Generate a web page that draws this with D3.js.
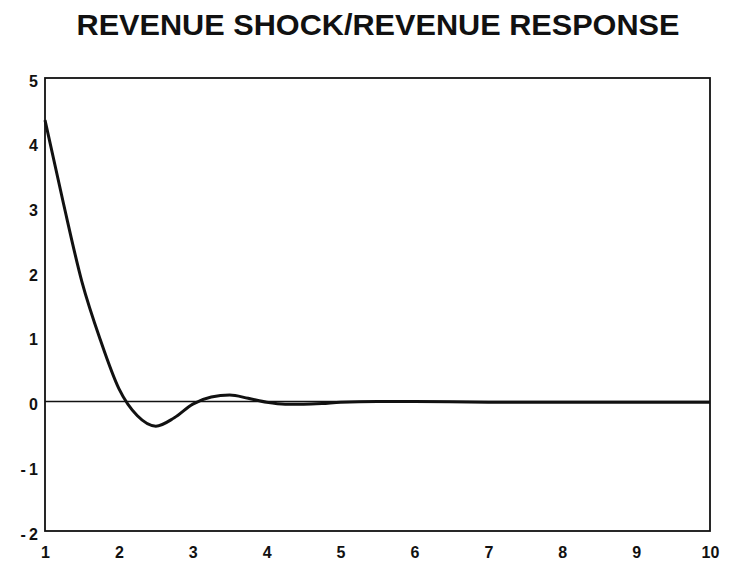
<!DOCTYPE html>
<html>
<head>
<meta charset="utf-8">
<script src="https://cdn.jsdelivr.net/npm/d3@7"></script>
<style>
  html, body { margin: 0; padding: 0; background: #fff; }
  svg { display: block; }
  text { font-family: "Liberation Sans", Arial, sans-serif; fill: #111; }
</style>
</head>
<body>
<div id="chart"></div>
<script>
// response horizon (x) and revenue response (y)
var periods = [1, 1.25, 1.5, 1.75, 2, 2.25, 2.5, 2.75, 3, 3.25, 3.5, 3.75, 4, 4.25, 4.5, 4.75, 5, 5.5, 6, 7, 8, 9, 10];
var response = [4.35, 3.06, 1.85, 0.95, 0.2, -0.22, -0.38, -0.25, -0.04, 0.07, 0.1, 0.05, -0.01, -0.04, -0.04, -0.03, -0.01, 0, 0, -0.01, -0.01, -0.01, -0.01];
var xTicks = [1, 2, 3, 4, 5, 6, 7, 8, 9, 10];
var yTicks = [5, 4, 3, 2, 1, 0, -1, -2];
var title = 'REVENUE SHOCK/REVENUE RESPONSE';

var W = 730, H = 562;
var margin = {top: 78, right: 20, bottom: 31, left: 45};

var svg = d3.select('#chart').append('svg').attr('width', W).attr('height', H);

var x = d3.scaleLinear().domain([1, 10]).range([margin.left, W - margin.right]);
var y = d3.scaleLinear().domain([-2, 5]).range([H - margin.bottom, margin.top]);

svg.append('text')
  .attr('x', 378).attr('y', 35)
  .attr('text-anchor', 'middle')
  .style('font-size', '30px').style('font-weight', 'bold')
  .attr('textLength', 603).attr('lengthAdjust', 'spacingAndGlyphs')
  .text(title);

// frame
svg.append('rect')
  .attr('x', x(1)).attr('y', y(5))
  .attr('width', x(10) - x(1)).attr('height', y(-2) - y(5))
  .attr('fill', 'none').attr('stroke', '#111').attr('stroke-width', 1.8);

// zero line
svg.append('line')
  .attr('x1', x(1)).attr('x2', x(10))
  .attr('y1', y(0)).attr('y2', y(0))
  .attr('stroke', '#111').attr('stroke-width', 1.6);

var yAxis = d3.axisLeft(y).tickValues(yTicks).tickSize(0).tickPadding(7)
  .tickFormat(function(d){ return d < 0 ? '-\u2009' + Math.abs(d) : d; });
var gy = svg.append('g').attr('transform', 'translate(' + x(1) + ',0)').call(yAxis);
gy.select('.domain').remove();
gy.selectAll('text')
  .attr('dy', '0.5em')
  .style('font-size', '16px').style('font-weight', 'bold')
  .style('font-family', '"Liberation Sans", Arial, sans-serif').attr('fill', '#111');

var xAxis = d3.axisBottom(x).tickValues(xTicks).tickSize(0).tickPadding(16);
var gx = svg.append('g').attr('transform', 'translate(0,' + y(-2) + ')').call(xAxis);
gx.select('.domain').remove();
gx.selectAll('text')
  .style('font-size', '16px').style('font-weight', 'bold')
  .style('font-family', '"Liberation Sans", Arial, sans-serif').attr('fill', '#111');

var line = d3.line()
  .x(function(d, i){ return x(periods[i]); })
  .y(function(d){ return y(d); })
  .curve(d3.curveMonotoneX);

svg.append('path')
  .datum(response)
  .attr('d', line)
  .attr('fill', 'none')
  .attr('stroke', '#111')
  .attr('stroke-width', 3)
  .attr('stroke-linejoin', 'round');
</script>
</body>
</html>
